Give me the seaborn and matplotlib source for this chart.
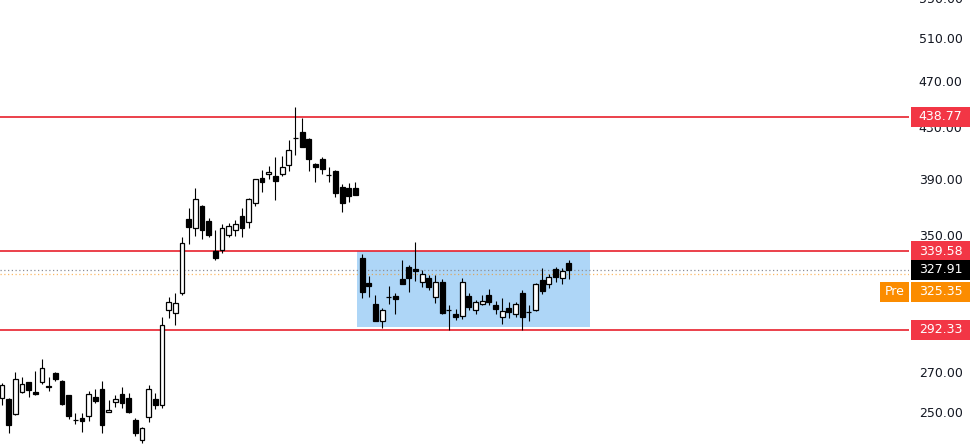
import matplotlib

matplotlib.use("Agg")

import matplotlib.pyplot as plt
import numpy as np
import pandas as pd
import seaborn as sns
from matplotlib.patches import Rectangle
from matplotlib.ticker import NullFormatter, NullLocator

# Daily candles (oldest -> newest)
opens = [256.8, 256.3, 249.1, 259.7, 264.7, 259.7, 264.7, 262.7, 269.3, 265.2,
         258.2, 246.0, 247.2, 248.1, 257.2, 261.2, 250.0, 255.0, 258.7, 256.8,
         246.2, 237.0, 247.6, 256.3, 253.4, 303.6, 302.1, 313.8, 360.9, 354.6,
         370.2, 359.8, 339.8, 340.4, 350.3, 353.9, 363.2, 358.7, 372.5, 390.7,
         393.5, 392.0, 393.5, 400.3, 421.2, 426.5, 420.4, 401.1, 404.9, 392.7,
         395.7, 384.1, 383.3, 383.3, 335.1, 319.9, 307.1, 297.5, 311.0, 311.8,
         322.1, 329.8, 328.3, 320.5, 322.8, 311.4, 320.5, 303.6, 301.3, 300.4,
         311.8, 303.6, 307.3, 312.4, 306.6, 299.4, 305.0, 301.3, 313.5, 302.5,
         303.6, 321.5, 318.9, 328.3, 322.5, 331.9]
highs = [264.2, 256.8, 269.8, 267.2, 264.9, 270.3, 276.6, 267.2, 269.8, 265.5,
         258.4, 249.5, 249.5, 260.2, 261.2, 265.2, 255.8, 258.2, 262.2, 259.2,
         247.2, 243.0, 263.2, 259.2, 299.6, 311.2, 313.6, 349.1, 368.8, 382.7,
         370.5, 361.8, 353.6, 357.7, 358.6, 360.4, 368.5, 375.5, 389.7, 396.5,
         399.5, 406.4, 407.3, 419.8, 446.8, 437.5, 421.2, 401.5, 406.6, 399.0,
         396.5, 386.0, 386.6, 387.7, 337.8, 324.0, 312.4, 304.7, 317.8, 313.6,
         334.0, 330.8, 345.8, 327.7, 324.6, 324.6, 322.1, 306.6, 304.2, 322.5,
         313.6, 309.5, 312.4, 316.0, 308.9, 310.4, 308.5, 308.5, 315.4, 306.3,
         319.7, 328.8, 325.0, 329.2, 328.8, 334.0]
lows = [253.4, 240.2, 248.6, 259.4, 257.2, 258.2, 263.7, 260.2, 265.2, 253.4,
        246.7, 244.3, 240.7, 245.7, 254.3, 240.2, 249.8, 252.4, 251.9, 249.5,
        238.8, 235.6, 245.3, 251.4, 251.9, 299.0, 295.1, 312.4, 344.3, 349.6,
        347.6, 349.0, 334.0, 338.5, 349.2, 349.6, 349.0, 355.0, 370.2, 380.2,
        389.7, 374.4, 392.0, 395.7, 408.0, 414.3, 395.7, 387.7, 393.5, 387.7,
        376.4, 366.2, 373.2, 377.7, 310.6, 311.4, 297.3, 293.4, 307.1, 301.3,
        318.8, 314.4, 320.9, 317.0, 315.4, 307.7, 301.4, 292.3, 298.0, 298.6,
        303.6, 301.3, 306.3, 306.3, 301.3, 295.5, 298.9, 299.3, 292.0, 297.3,
        303.0, 312.9, 316.5, 320.5, 318.9, 321.9]
closes = [263.2, 243.9, 266.2, 263.7, 260.7, 258.7, 271.9, 262.4, 266.2, 253.8,
          248.1, 246.2, 245.7, 258.7, 255.3, 243.9, 251.0, 256.3, 254.3, 250.0,
          240.2, 242.5, 261.2, 253.4, 295.1, 308.3, 307.5, 344.8, 355.5, 375.2,
          353.6, 350.3, 335.4, 354.6, 356.0, 357.5, 354.6, 374.8, 389.5, 387.2,
          395.2, 388.3, 399.0, 411.9, 420.9, 414.5, 404.6, 398.6, 397.2, 392.5,
          379.7, 372.1, 377.5, 378.0, 314.4, 317.8, 297.5, 303.6, 311.2, 310.3,
          319.1, 322.5, 327.1, 325.0, 317.2, 320.5, 301.7, 303.4, 299.8, 320.1,
          305.5, 308.1, 308.9, 308.5, 304.3, 303.0, 302.3, 306.9, 299.3, 302.3,
          318.9, 315.0, 323.5, 323.5, 327.1, 327.91]

levels = [438.77, 339.58, 292.33]
last_price = 327.91
pre_price = 325.35
price_ticks = [250, 270, 350, 390, 430, 470, 510, 550]

# consolidation range (bar index from/to, price low/high)
range_bars = (53.2, 88.2)
range_prices = (293.7, 339.58)

RED = "#f23645"
LINE_RED = "#e8202c"
ORANGE = "#fb8c00"
INK = "#131722"

W, H = 975, 444

df = pd.DataFrame({"open": opens, "high": highs, "low": lows, "close": closes})
df["bar"] = np.arange(len(df))
df["up"] = df["close"] >= df["open"]
df["body_lo"] = df[["open", "close"]].min(axis=1)
df["body_h"] = (df["open"] - df["close"]).abs().clip(lower=0.05)

sns.set_theme(style="white")
plt.rcParams["font.family"] = ["DejaVu Sans"]

fig = plt.figure(figsize=(W / 100, H / 100), dpi=100)
fig.patch.set_facecolor("white")
ax = fig.add_axes([0, 0, 909 / W, 454 / H])
ax.set_facecolor("white")

ax.set_yscale("log")
ax.set_xlim(-0.3, 136.0)
ax.set_ylim(235.2, 558.5)

# range box
ax.add_patch(Rectangle((range_bars[0], range_prices[0]),
                       range_bars[1] - range_bars[0],
                       range_prices[1] - range_prices[0],
                       fc="#aed6f7", ec="none", zorder=1))

# key levels
for lv in levels:
    ax.axhline(lv, color=LINE_RED, lw=1.2, zorder=2)
ax.axhline(last_price, color="#8a8d96", lw=0.9, ls=(0, (1, 2)), zorder=2)
ax.axhline(pre_price, color=ORANGE, lw=0.9, ls=(0, (1, 2)), alpha=0.6, zorder=2)

# candles
ax.vlines(df["bar"], df["low"], df["high"], color="black", lw=0.8, zorder=3)
for up, grp in df.groupby("up"):
    ax.bar(grp["bar"], grp["body_h"], bottom=grp["body_lo"], width=0.72,
           color="white" if up else "black", edgecolor="black",
           linewidth=0.9, zorder=4)

# price axis on the right
ax.set_xticks([])
ax.yaxis.tick_right()
ax.yaxis.set_minor_locator(NullLocator())
ax.yaxis.set_minor_formatter(NullFormatter())
ax.set_yticks(price_ticks)
ax.set_yticklabels([f"{t:.2f}" for t in price_ticks])
ax.tick_params(axis="y", length=0, pad=7, labelsize=9, labelcolor=INK)
sns.despine(ax=ax, left=True, bottom=True, right=True, top=True)


def price_tag(price, text, color, x0=911, width=59, dy=0):
    py = ax.transData.transform((0, price))[1] + dy
    fig.add_artist(Rectangle((x0 / W, (py - 10) / H), width / W, 20 / H,
                             transform=fig.transFigure, fc=color, ec="none",
                             zorder=5))
    fig.text((x0 + width / 2) / W, py / H, text, ha="center", va="center",
             color="white", fontsize=9, zorder=6)


for lv in levels:
    price_tag(lv, f"{lv:.2f}", RED)
price_tag(last_price, f"{last_price:.2f}", "black")
price_tag(pre_price, f"{pre_price:.2f}", ORANGE, dy=-18)
price_tag(pre_price, "Pre", ORANGE, x0=880, width=29, dy=-18)

fig.savefig("out.png", dpi=100, facecolor="white")
plt.close(fig)
